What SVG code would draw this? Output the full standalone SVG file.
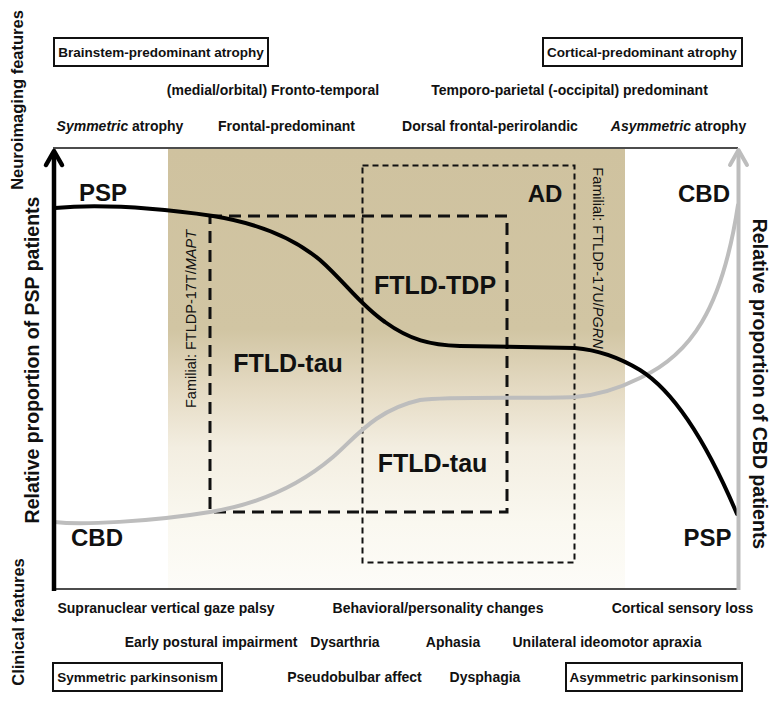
<svg xmlns="http://www.w3.org/2000/svg" width="775" height="701" viewBox="0 0 775 701">
<defs>
<linearGradient id="shade" x1="0" y1="0" x2="0" y2="1">
<stop offset="0" stop-color="#cfc29f"/>
<stop offset="0.41" stop-color="#d1c5a3"/>
<stop offset="0.55" stop-color="#e5dbc4"/>
<stop offset="0.68" stop-color="#f3eee1"/>
<stop offset="0.85" stop-color="#faf8f0"/>
<stop offset="1" stop-color="#fdfcf8"/>
</linearGradient>
</defs>
<style>
text{font-family:"Liberation Sans",Arial,sans-serif;fill:#111}
.t{font-size:14px;font-weight:bold;text-anchor:middle}
.b{font-size:13.5px;font-weight:bold;text-anchor:middle}
.box{fill:#fff;stroke:#111;stroke-width:2}
.big{font-size:24px;font-weight:bold;text-anchor:middle}
.mid{font-size:25px;font-weight:bold;text-anchor:middle}
.fam{font-size:14.5px;text-anchor:middle}
.ax{font-size:19.5px;font-weight:bold;text-anchor:middle}
.side{font-size:16.5px;font-weight:bold;text-anchor:middle}
.dthick{fill:none;stroke:#111;stroke-width:3;stroke-dasharray:12 7}
.dthin{fill:none;stroke:#111;stroke-width:2;stroke-dasharray:6 4}
</style>
<rect width="775" height="701" fill="#fff"/>
<g id="background">
<rect x="168" y="149" width="457" height="440" fill="url(#shade)"/>
<line x1="53" y1="148" x2="738" y2="148" stroke="#111" stroke-width="1.5"/>
<line x1="53" y1="589" x2="738" y2="589" stroke="#111" stroke-width="1.5"/>
</g>
<g id="side-labels">
<text class="side" transform="translate(23,100) rotate(-90)">Neuroimaging features</text>
<text class="side" transform="translate(24,622) rotate(-90)">Clinical features</text>
<text class="ax" transform="translate(39,360) rotate(-90)">Relative proportion of PSP patients</text>
<text class="ax" transform="translate(753,384) rotate(90)">Relative proportion of CBD patients</text>
</g>
<g id="node-brainstem">
<rect class="box" x="54" y="38" width="214" height="28"/>
<text class="b" x="161" y="57">Brainstem-predominant atrophy</text>
</g>
<g id="node-cortical">
<rect class="box" x="543" y="38" width="199" height="28"/>
<text class="b" x="642" y="57">Cortical-predominant atrophy</text>
</g>
<g id="neuroimaging-labels">
<text class="t" x="273" y="95">(medial/orbital) Fronto-temporal</text>
<text class="t" x="569.5" y="95">Temporo-parietal (-occipital) predominant</text>
<text class="t" x="120" y="131"><tspan font-style="italic">Symmetric</tspan> atrophy</text>
<text class="t" x="286.5" y="131">Frontal-predominant</text>
<text class="t" x="490" y="131">Dorsal frontal-perirolandic</text>
<text class="t" x="678.5" y="131"><tspan font-style="italic">Asymmetric</tspan> atrophy</text>
</g>
<g id="node-ftld-tau-box">
<rect class="dthick" x="210" y="216" width="297" height="296"/>
<text class="mid" x="288" y="372">FTLD-tau</text>
</g>
<g id="node-ad-box">
<rect class="dthin" x="362.5" y="165.5" width="212" height="397"/>
<text class="big" x="545" y="202">AD</text>
<text class="mid" x="435" y="294">FTLD-TDP</text>
<text class="mid" x="432.5" y="472">FTLD-tau</text>
</g>
<g id="node-familial">
<text class="fam" transform="translate(196,319) rotate(-90)">Familial: FTLDP-17T/<tspan font-style="italic">MAPT</tspan></text>
<text class="fam" transform="translate(593,258) rotate(90)">Familial: FTLDP-17U/<tspan font-style="italic">PGRN</tspan></text>
</g>
<g id="node-labels">
<text class="big" x="103" y="201">PSP</text>
<text class="big" x="97" y="546">CBD</text>
<text class="big" x="704" y="202">CBD</text>
<text class="big" x="707.5" y="546">PSP</text>
</g>
<g id="connectors" fill="none" stroke-linecap="round" stroke-linejoin="round">
<path d="M55,522 C80,525 150,522 210,512 C260,504 300,485 333,457 C355,438 375,410 420,400 C450,396 540,399 575,397 C600,395 620,388 640,378 C690,355 722,310 738,205" stroke="#bdbdbd" stroke-width="4"/>
<path d="M55,208 C100,204 150,207 213,216 C250,222 290,235 320,260 C345,282 360,305 385,322 C410,340 430,345 460,346 L575,348 C600,350 620,358 640,370 C680,395 712,455 737,514" stroke="#000" stroke-width="4"/>
<line x1="738.5" y1="590" x2="738.5" y2="151" stroke="#bdbdbd" stroke-width="4" stroke-linecap="butt"/>
<polyline points="730,165 738.5,150 747,165" stroke="#bdbdbd" stroke-width="4"/>
<line x1="54" y1="591" x2="54" y2="152" stroke="#000" stroke-width="4.5" stroke-linecap="butt"/>
<polyline points="46,165 54,151 62,165" stroke="#000" stroke-width="4.5"/>
</g>
<g id="node-symmetric-parkinsonism">
<rect class="box" x="53" y="663" width="169" height="28"/>
<text class="b" x="137.5" y="682">Symmetric parkinsonism</text>
</g>
<g id="node-asymmetric-parkinsonism">
<rect class="box" x="566" y="663" width="176" height="28"/>
<text class="b" x="654" y="682">Asymmetric parkinsonism</text>
</g>
<g id="clinical-labels">
<text class="t" x="166" y="613">Supranuclear vertical gaze palsy</text>
<text class="t" x="438" y="613">Behavioral/personality changes</text>
<text class="t" x="682.5" y="613">Cortical sensory loss</text>
<text class="t" x="211" y="647">Early postural impairment</text>
<text class="t" x="345" y="647">Dysarthria</text>
<text class="t" x="453" y="647">Aphasia</text>
<text class="t" x="607" y="647">Unilateral ideomotor apraxia</text>
<text class="t" x="354.5" y="682">Pseudobulbar affect</text>
<text class="t" x="485" y="682">Dysphagia</text>
</g>
</svg>
